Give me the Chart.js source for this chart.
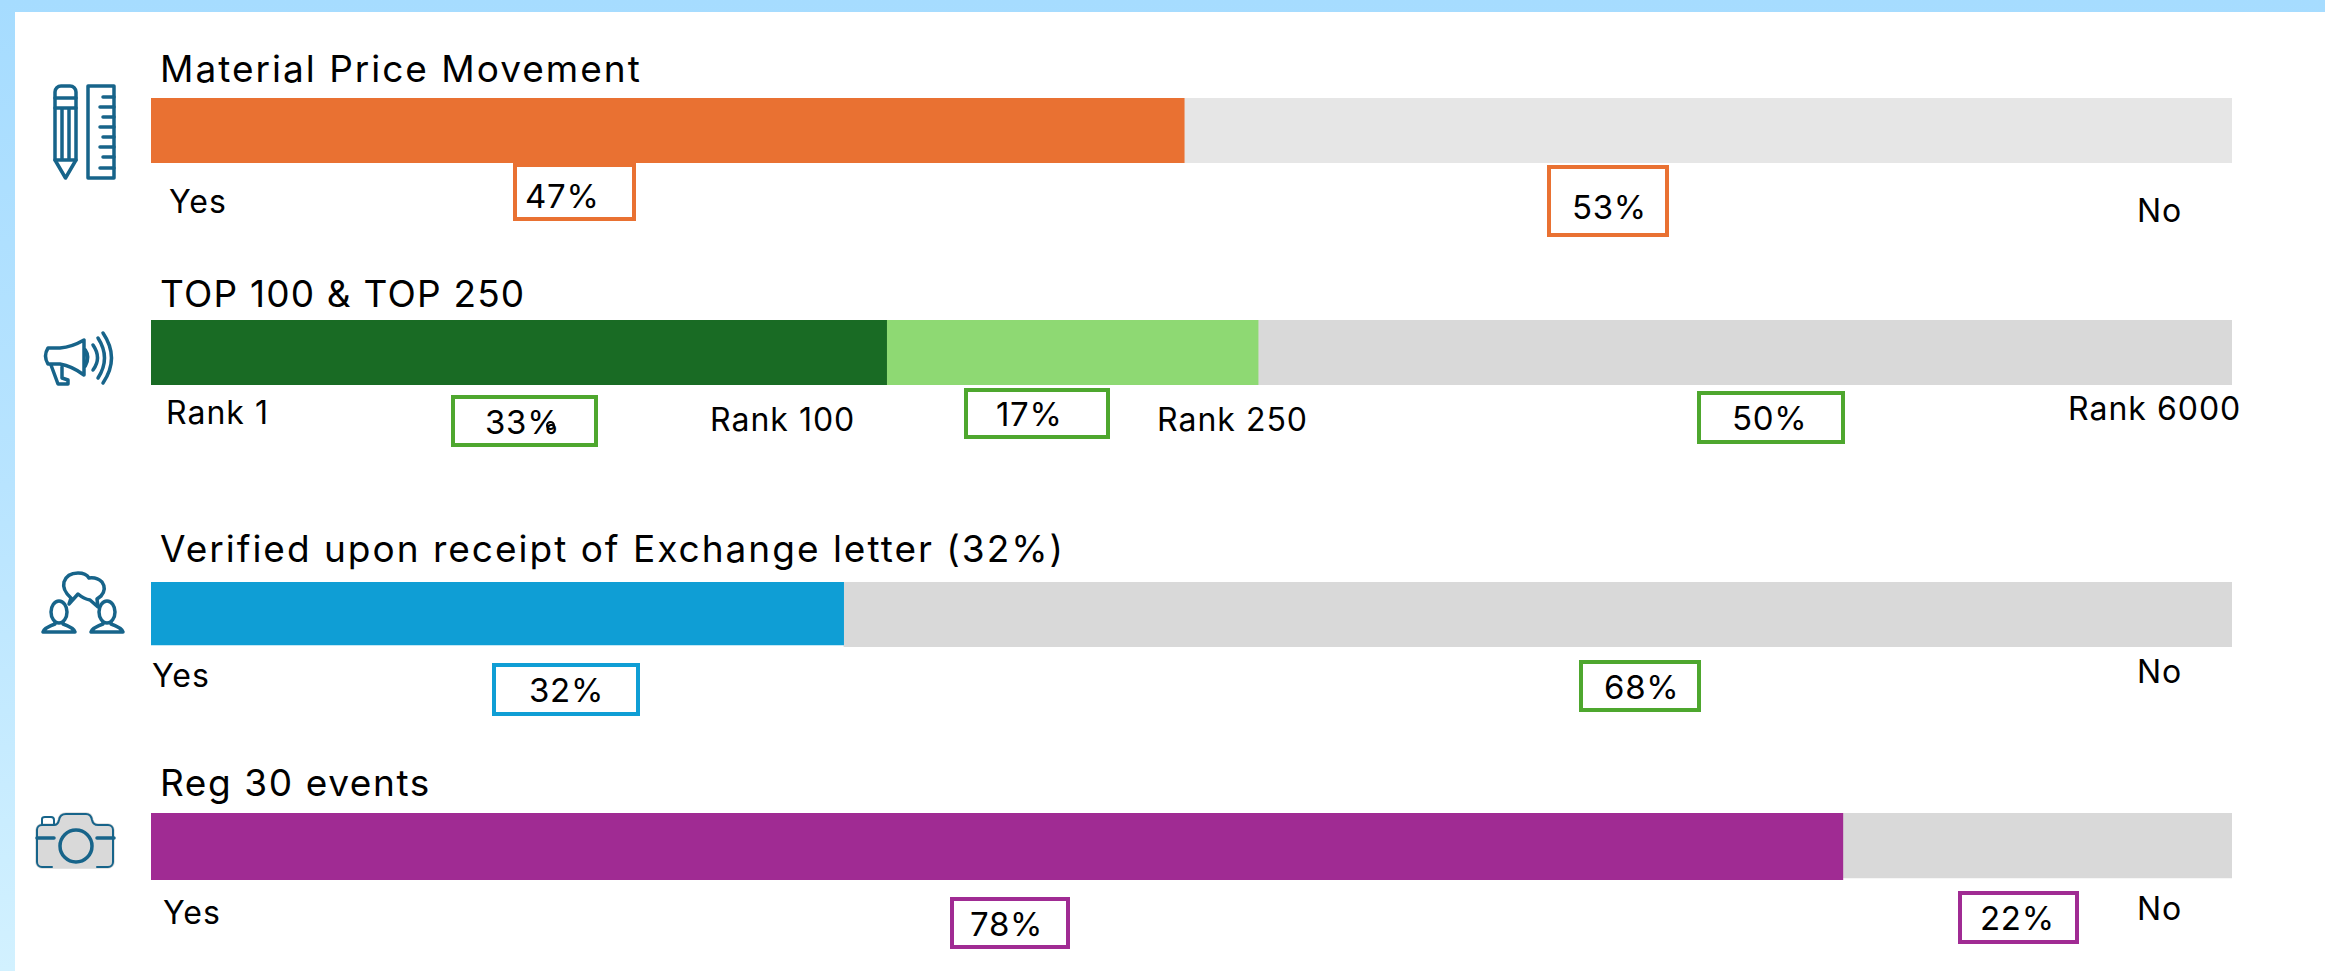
<!DOCTYPE html>
<html>
<head>
<meta charset="utf-8">
<title>Survey bars</title>
<script src="https://cdn.jsdelivr.net/npm/chart.js@4/dist/chart.umd.min.js"></script>
<style>
    html, body { margin: 0; padding: 0; }
    body { width: 2325px; height: 971px; position: relative; overflow: hidden; background: linear-gradient(180deg, #a6dcff 0%, #b8e4ff 50%, #d2f1ff 100%); font-family: Inter, sans-serif; color: #000; }
    #panel { position: absolute; left: 15px; top: 12px; right: 0; bottom: 0; background: #fff; }
    #icons { position: absolute; left: 0; top: 0; }
    .bar { position: absolute; left: 151px; }
    .txt { position: absolute; transform: translateY(-50%); white-space: nowrap; line-height: 1; font-weight: 400; }
    .title { font-size: 37px; letter-spacing: 2px; }
    .title.tight { letter-spacing: 1.2px; }
    .title.snug { letter-spacing: 1.6px; }
    .end { font-size: 32px; letter-spacing: 1px; }
    .pct { font-size: 33px; letter-spacing: 0.7px; }
    .box { position: absolute; box-sizing: border-box; border: 4px solid; background: #fff; }
    #stray { position: absolute; left: 546px; top: 421px; width: 9px; height: 9px; box-sizing: border-box; border: 2px solid #000; border-radius: 50%; }
</style>
</head>
<body>
<div id="panel"></div>

<svg id="icons" width="2325" height="971" fill="none" stroke="#17648a" stroke-width="3.5" stroke-linecap="round" stroke-linejoin="round">
    <!-- pencil and ruler -->
    <path d="M55 92a6 6 0 0 1 6-6h9a6 6 0 0 1 6 6V160L65.5 178L55 160Z"/>
    <path d="M55 98H76M55 108H76M62 108V158M69 108V158M55 160H76"/>
    <rect x="88" y="86" width="26" height="92"/>
    <path d="M103 97H114M100 107H114M103 117H114M100 127H114M103 137H114M100 147H114M103 157H114M100 168H114"/>
    <!-- megaphone -->
    <path d="M48 348H60Q72 347 84 340V375Q72 366 60 364H48Q43 356 48 348Z"/>
    <path d="M85 350Q90 357 85 366" stroke-width="4"/>
    <path d="M51 365L58 384H68V380L62 378V367"/>
    <path d="M93 345Q102 358 93 370M98 338Q111 358 98 378M103 333Q120 358 103 383"/>
    <!-- two people talking -->
    <ellipse cx="59" cy="612" rx="8" ry="11"/>
    <path d="M55 622V624Q44 628 43 632H75Q74 628 63 624V622"/>
    <ellipse cx="107" cy="612" rx="8" ry="11"/>
    <path d="M103 622V624Q92 628 91 632H123Q122 628 111 624V622"/>
    <path d="M71 598Q62 590 64 582Q67 573 78 573Q86 573 89 578Q97 577 102 582Q107 589 101 596L97 599L98 607L90 600Q84 599 78 594L69 604Z" fill="#fff"/>
    <!-- camera -->
    <path d="M37 830a5 5 0 0 1 5-5H54Q58 825 59 820Q60 814 66 814H86Q91 814 92 820Q93 825 98 825H108a5 5 0 0 1 5 5V862a5 5 0 0 1-5 5H42a5 5 0 0 1-5-5Z" fill="#d9d9d9" stroke="#d9d9d9"/>
    <path d="M52 867H42a5 5 0 0 1-5-5V830a5 5 0 0 1 5-5H54Q58 825 59 820Q60 814 66 814H86Q91 814 92 820Q93 825 98 825H108a5 5 0 0 1 5 5V862a5 5 0 0 1-5 5H97" stroke-width="2"/>
    <path d="M42 824V819Q42 817 45 817H51Q54 817 54 820V824" stroke-width="2"/>
    <circle cx="76" cy="846" r="16"/>
    <path d="M37 838H54M97 838H114"/>
</svg>

<canvas class="bar" id="materialChart" style="top:98px" width="2081" height="65"></canvas>
<canvas class="bar" id="topRankChart" style="top:320px" width="2081" height="65"></canvas>
<canvas class="bar" id="verifiedChart" style="top:582px" width="2081" height="65"></canvas>
<canvas class="bar" id="regEventsChart" style="top:813px" width="2081" height="67"></canvas>

<script>
// Bar lengths. They run slightly longer than the printed percentages.
const materialShares = [49.65, 50.35];
const topRankShares = [35.35, 17.85, 46.8];
const verifiedShares = [33.3, 66.7];
const regEventShares = [81.3, 18.7];

const materialLabels = ['47%', '53%'];
const topRankLabels = ['33%', '17%', '50%'];
const verifiedLabels = ['32%', '68%'];
const regEventLabels = ['78%', '22%'];

const chartTitles = ['Material Price Movement', 'TOP 100 & TOP 250', 'Verified upon receipt of Exchange letter (32%)', 'Reg 30 events'];
const yesNo = ['Yes', 'No'];
const rankStops = ['Rank 1', 'Rank 100', 'Rank 250', 'Rank 6000'];

const ORANGE = '#e97132', DARK_GREEN = '#196b24', LIGHT_GREEN = '#8ed973', BLUE = '#0f9ed5', PURPLE = '#a02b93';
const GREY = '#d9d9d9', PALE_GREY = '#e6e6e6', BOX_GREEN = '#4ea72e';

function drawBar(canvasId, values, colors, insets = []) {
    new Chart(document.getElementById(canvasId), {
        type: 'bar',
        data: {
            labels: [''],
            datasets: values.map((v, i) => ({
                data: [v],
                backgroundColor: colors[i],
                borderColor: 'transparent',
                borderWidth: { bottom: insets[i] || 0 },
                borderSkipped: false,
                categoryPercentage: 1,
                barPercentage: 1
            }))
        },
        options: {
            indexAxis: 'y',
            responsive: false,
            animation: false,
            layout: { padding: 0 },
            plugins: { legend: { display: false }, tooltip: { enabled: false } },
            scales: {
                x: { stacked: true, display: false, min: 0, max: 100 },
                y: { stacked: true, display: false }
            }
        }
    });
}

drawBar('materialChart', materialShares, [ORANGE, PALE_GREY]);
drawBar('topRankChart', topRankShares, [DARK_GREEN, LIGHT_GREEN, GREY]);
drawBar('verifiedChart', verifiedShares, [BLUE, GREY], [2, 0]);
drawBar('regEventsChart', regEventShares, [PURPLE, GREY], [0, 2]);

function addBox(x1, y1, x2, y2, color) {
    const el = document.createElement('div');
    el.className = 'box';
    el.style.cssText = `left:${x1}px;top:${y1}px;width:${x2 - x1}px;height:${y2 - y1}px;border-color:${color}`;
    document.body.appendChild(el);
}

function addText(text, x, y, cls) {
    const el = document.createElement('div');
    el.className = 'txt ' + cls;
    el.style.left = x + 'px';
    el.style.top = y + 'px';
    el.textContent = text;
    document.body.appendChild(el);
}

addText(chartTitles[0], 160, 68, 'title');
addText(chartTitles[1], 160, 293, 'title tight');
addText(chartTitles[2], 160, 548, 'title');
addText(chartTitles[3], 160, 782, 'title snug');

addBox(513, 163, 636, 221, ORANGE);
addBox(1547, 165, 1669, 237, ORANGE);
addBox(451, 395, 598, 447, BOX_GREEN);
addBox(964, 388, 1110, 439, BOX_GREEN);
addBox(1697, 391, 1845, 444, BOX_GREEN);
addBox(492, 663, 640, 716, BLUE);
addBox(1579, 660, 1701, 712, BOX_GREEN);
addBox(950, 897, 1070, 949, PURPLE);
addBox(1958, 891, 2079, 944, PURPLE);

addText(materialLabels[0], 525, 196, 'pct');
addText(materialLabels[1], 1572, 207, 'pct');
addText(topRankLabels[0], 485, 422, 'pct');
addText(topRankLabels[1], 996, 414, 'pct');
addText(topRankLabels[2], 1732, 418, 'pct');
addText(verifiedLabels[0], 529, 690, 'pct');
addText(verifiedLabels[1], 1604, 687, 'pct');
addText(regEventLabels[0], 970, 924, 'pct');
addText(regEventLabels[1], 1980, 918, 'pct');

addText(yesNo[0], 169, 202, 'end');
addText(yesNo[1], 2137, 211, 'end');
addText(rankStops[0], 166, 413, 'end');
addText(rankStops[1], 710, 420, 'end');
addText(rankStops[2], 1157, 420, 'end');
addText(rankStops[3], 2068, 409, 'end');
addText(yesNo[0], 152, 676, 'end');
addText(yesNo[1], 2137, 672, 'end');
addText(yesNo[0], 163, 913, 'end');
addText(yesNo[1], 2137, 909, 'end');

const stray = document.createElement('div');
stray.id = 'stray';
document.body.appendChild(stray);
</script>
</body>
</html>
